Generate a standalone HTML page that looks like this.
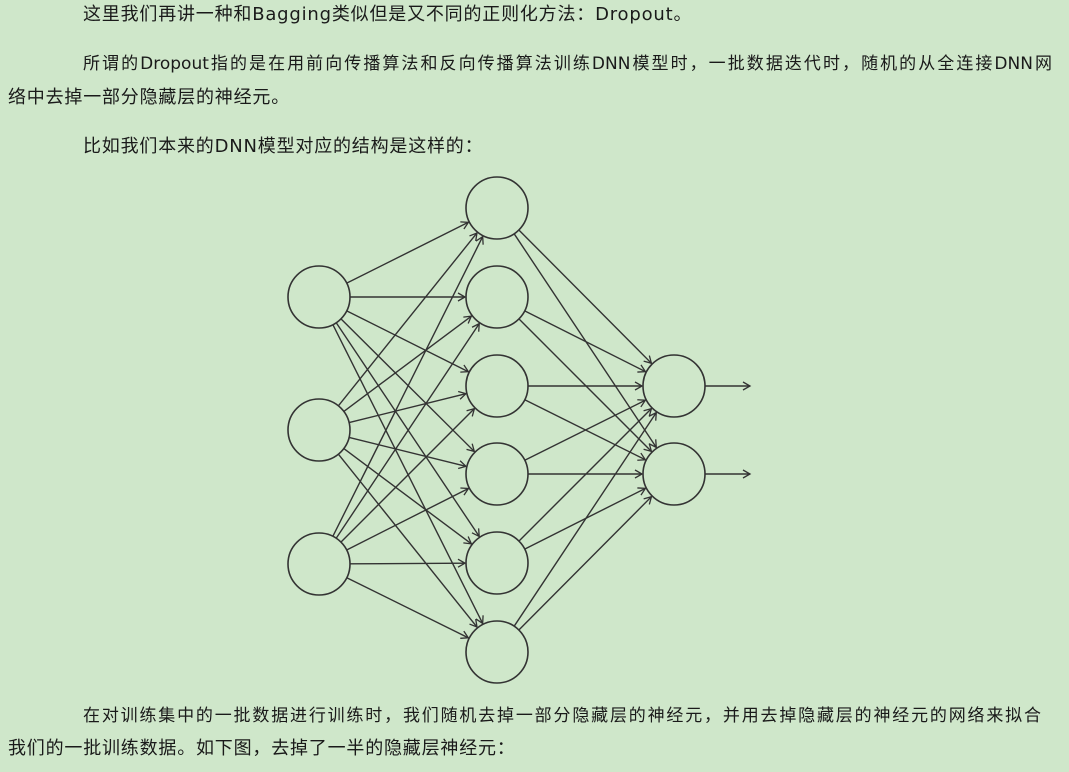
<!DOCTYPE html>
<html><head><meta charset="utf-8"><style>
body{margin:0;width:1069px;height:772px;background:#cfe7ca;font-family:"DejaVu Sans","Noto Sans CJK SC",sans-serif;color:#1a1a1a;font-size:18px;letter-spacing:0.8px;overflow:hidden;position:relative}
div.t{position:absolute;margin:0;line-height:33px;white-space:nowrap}
div.j{text-align:justify;text-align-last:justify;white-space:normal;letter-spacing:0;font-size:17px}
svg{position:absolute;left:0;top:0}
</style></head><body>
<div class="t" style="top:-2px;left:83px">这里我们再讲一种和Bagging类似但是又不同的正则化方法：Dropout。</div>
<div class="t j" style="top:48px;left:83px;width:969px">所谓的Dropout指的是在用前向传播算法和反向传播算法训练DNN模型时，一批数据迭代时，随机的从全连接DNN网</div>
<div class="t" style="top:81px;left:8px">络中去掉一部分隐藏层的神经元。</div>
<div class="t" style="top:130px;left:83px">比如我们本来的DNN模型对应的结构是这样的：</div>
<div class="t j" style="top:700px;left:83px;width:958px">在对训练集中的一批数据进行训练时，我们随机去掉一部分隐藏层的神经元，并用去掉隐藏层的神经元的网络来拟合</div>
<div class="t" style="top:732px;left:8px">我们的一批训练数据。如下图，去掉了一半的隐藏层神经元：</div>
<svg id="s" width="1069" height="772"><defs><marker id="a" markerWidth="10" markerHeight="10" refX="8" refY="5" orient="auto" markerUnits="userSpaceOnUse"><path d="M1,1 L8,5 L1,9" fill="none" stroke="#333" stroke-width="1.3"/></marker></defs></svg>
<script>
var s=document.getElementById('s'),R=31,ns='http://www.w3.org/2000/svg';
var I=[[319,297],[319,430],[319,564]],H=[208,297,386,474,563,652].map(y=>[497,y]),O=[[674,386],[674,474]];
function ln(x1,y1,x2,y2,m){var e=document.createElementNS(ns,'line');e.setAttribute('x1',x1);e.setAttribute('y1',y1);e.setAttribute('x2',x2);e.setAttribute('y2',y2);e.setAttribute('stroke','#333');e.setAttribute('stroke-width','1.4');if(m)e.setAttribute('marker-end','url(#a)');s.appendChild(e);}
function conn(A,B){var dx=B[0]-A[0],dy=B[1]-A[1],d=Math.hypot(dx,dy),ux=dx/d,uy=dy/d;ln(A[0]+ux*R,A[1]+uy*R,B[0]-ux*(R+1),B[1]-uy*(R+1),1);}
I.forEach(a=>H.forEach(b=>conn(a,b)));H.forEach(a=>O.forEach(b=>conn(a,b)));
O.forEach(o=>ln(o[0]+R,o[1],750,o[1],1));
I.concat(H,O).forEach(c=>{var e=document.createElementNS(ns,'circle');e.setAttribute('cx',c[0]);e.setAttribute('cy',c[1]);e.setAttribute('r',R);e.setAttribute('fill','none');e.setAttribute('stroke','#333');e.setAttribute('stroke-width','1.6');s.appendChild(e);});
</script>
</body></html>
